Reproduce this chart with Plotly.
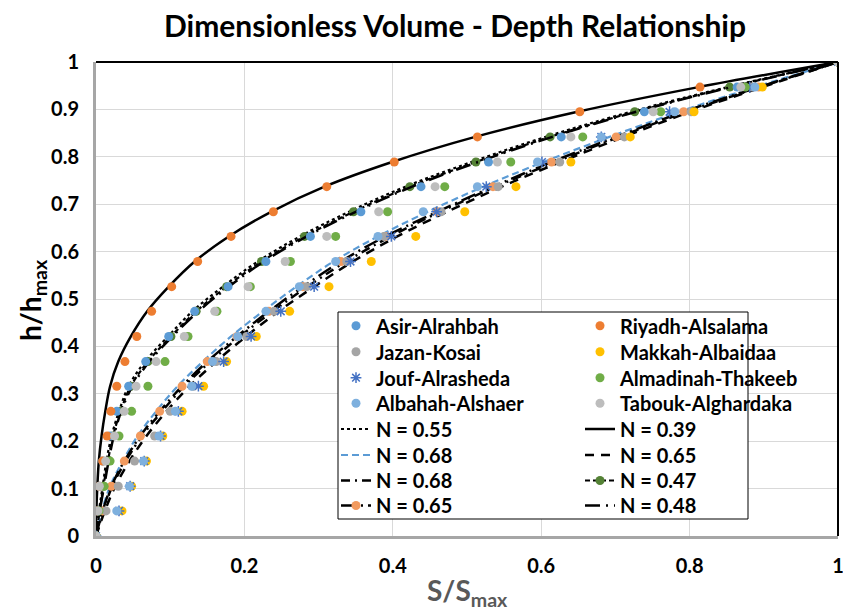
import plotly.graph_objects as go

# Relative depth levels (h/hmax) at which storage was tabulated
h_levels = [0, 0.053, 0.105, 0.158, 0.211, 0.263, 0.316, 0.368, 0.421, 0.474,
            0.526, 0.579, 0.632, 0.684, 0.737, 0.789, 0.842, 0.895, 0.947, 1.0]

# Observed relative storage S/Smax for each reservoir
asir = [0, 0.002, 0.005, 0.009, 0.019, 0.028, 0.044, 0.067, 0.098, 0.133,
        0.178, 0.229, 0.289, 0.357, 0.438, 0.529, 0.627, 0.739, 0.864, 1.0]
riyadh = [0, 0.001, 0.0045, 0.009, 0.015, 0.020, 0.028, 0.039, 0.055, 0.075,
          0.102, 0.137, 0.182, 0.239, 0.311, 0.402, 0.514, 0.652, 0.814, 1.0]
jazan = [0, 0.0135, 0.030, 0.052, 0.079, 0.100, 0.131, 0.162, 0.203, 0.240,
         0.284, 0.338, 0.388, 0.465, 0.542, 0.625, 0.712, 0.802, 0.884, 1.0]
makkah = [0, 0.035, 0.048, 0.068, 0.090, 0.116, 0.145, 0.176, 0.216, 0.261,
          0.314, 0.371, 0.431, 0.497, 0.566, 0.640, 0.720, 0.806, 0.898, 1.0]
jouf = [0, 0.031, 0.046, 0.065, 0.087, 0.111, 0.138, 0.172, 0.209, 0.249,
        0.294, 0.343, 0.398, 0.459, 0.526, 0.601, 0.681, 0.773, 0.881, 1.0]
almadinah = [0, 0.004, 0.011, 0.019, 0.031, 0.048, 0.070, 0.093, 0.124, 0.163,
             0.208, 0.262, 0.323, 0.393, 0.470, 0.559, 0.656, 0.761, 0.875, 1.0]
albahah = [0, 0.028, 0.045, 0.064, 0.085, 0.107, 0.129, 0.157, 0.191, 0.229,
           0.274, 0.323, 0.380, 0.441, 0.514, 0.595, 0.681, 0.780, 0.888, 1.0]
tabouk = [0, 0.0027, 0.0045, 0.013, 0.025, 0.038, 0.054, 0.081, 0.119, 0.160,
          0.205, 0.255, 0.311, 0.381, 0.457, 0.541, 0.640, 0.751, 0.869, 1.0]

# Model curves S/Smax at the same depth levels, one per reservoir
curve_asir = [0, 0.004, 0.009, 0.014, 0.021, 0.031, 0.044, 0.066, 0.097, 0.130,
              0.171, 0.218, 0.275, 0.341, 0.417, 0.506, 0.606, 0.721, 0.851, 1.0]
curve_riyadh = [0, 0.0005, 0.0018, 0.0038, 0.0075, 0.0125, 0.019, 0.030, 0.047, 0.069,
                0.098, 0.133, 0.179, 0.236, 0.308, 0.399, 0.511, 0.649, 0.812, 1.0]
curve_jazan = [0, 0.008, 0.019, 0.036, 0.056, 0.081, 0.110, 0.144, 0.182, 0.225,
               0.270, 0.320, 0.380, 0.447, 0.522, 0.603, 0.692, 0.786, 0.888, 1.0]
curve_makkah = [0, 0.012, 0.026, 0.045, 0.068, 0.095, 0.126, 0.162, 0.202, 0.246,
                0.294, 0.346, 0.406, 0.473, 0.547, 0.626, 0.711, 0.801, 0.898, 1.0]
curve_jouf = [0, 0.010, 0.022, 0.040, 0.062, 0.089, 0.119, 0.154, 0.194, 0.238,
              0.285, 0.337, 0.397, 0.464, 0.539, 0.619, 0.705, 0.796, 0.895, 1.0]
curve_almadinah = [0, 0.005, 0.010, 0.016, 0.023, 0.033, 0.047, 0.070, 0.101, 0.135,
                   0.176, 0.223, 0.281, 0.347, 0.423, 0.512, 0.612, 0.726, 0.854, 1.0]
curve_albahah = [0, 0.009, 0.0207, 0.0382, 0.0598, 0.0858, 0.116, 0.150, 0.190, 0.233,
                 0.279, 0.330, 0.390, 0.460, 0.535, 0.614, 0.701, 0.792, 0.893, 1.0]
curve_tabouk = [0, 0.005, 0.011, 0.017, 0.024, 0.034, 0.049, 0.072, 0.103, 0.138,
                0.179, 0.226, 0.284, 0.350, 0.426, 0.515, 0.615, 0.728, 0.856, 1.0]

station_names = ["Asir-Alrahbah", "Riyadh-Alsalama", "Jazan-Kosai", "Makkah-Albaidaa",
                 "Jouf-Alrasheda", "Almadinah-Thakeeb", "Albahah-Alshaer", "Tabouk-Alghardaka"]
n_values = [0.55, 0.39, 0.68, 0.65, 0.68, 0.47, 0.65, 0.48]

x_ticks = [0, 0.2, 0.4, 0.6, 0.8, 1.0]
x_tick_text = ["0", "0.2", "0.4", "0.6", "0.8", "1"]
y_ticks = [0, 0.1, 0.2, 0.3, 0.4, 0.5, 0.6, 0.7, 0.8, 0.9, 1.0]
y_tick_text = ["0", "0.1", "0.2", "0.3", "0.4", "0.5", "0.6", "0.7", "0.8", "0.9", "1"]

observed = [asir, riyadh, jazan, makkah, jouf, almadinah, albahah, tabouk]
curves = [curve_asir, curve_riyadh, curve_jazan, curve_makkah,
          curve_jouf, curve_almadinah, curve_albahah, curve_tabouk]

# ---- styling ----
W, H = 843, 611
L, R, T, B = 96, 5, 62, 75
PW, PH = W - L - R, H - T - B
FONT = "Lato"


def px_x(px):
    return (px - L) / PW


def px_y(py):
    return (H - B - py) / PH


point_styles = [
    dict(symbol="circle", color="#5B9BD5"),
    dict(symbol="circle", color="#ED7D31"),
    dict(symbol="circle", color="#A5A5A5"),
    dict(symbol="circle", color="#FFC000"),
    dict(symbol="asterisk-open", color="#4472C4"),
    dict(symbol="circle", color="#70AD47"),
    dict(symbol="circle", color="#7EB0DE"),
    dict(symbol="circle", color="#BDBDBD"),
]

curve_styles = [
    dict(color="black", dash="dot", width=2.2, marker=None),
    dict(color="black", dash="solid", width=2.5, marker=None),
    dict(color="#5B9BD5", dash="7px,4px", width=2.2, marker=None),
    dict(color="black", dash="9px,7px", width=2.5, marker=None),
    dict(color="black", dash="9px,5px,2px,5px", width=2.5, marker=None),
    dict(color="black", dash="5px,3px", width=2.2, marker="#548235"),
    dict(color="black", dash="15px,5px,2px,5px", width=2.5, marker="#F29A5E"),
    dict(color="black", dash="15px,6px,2px,6px", width=2.5, marker=None),
]

# legend grid: two columns, eight rows
row_py = [325.7, 351.7, 377.7, 403.3, 429.0, 455.0, 480.5, 505.5]
col_px = [336, 580]

fig = go.Figure()
legend_layouts = {}
legend_count = 0


def next_legend(col, row):
    global legend_count
    legend_count += 1
    key = "legend" if legend_count == 1 else f"legend{legend_count}"
    legend_layouts[key] = dict(
        x=px_x(col_px[col]), y=px_y(row_py[row]), xanchor="left", yanchor="middle",
        bgcolor="rgba(0,0,0,0)", borderwidth=0, itemwidth=30,
        font=dict(family=FONT, size=20, color="black", weight="bold"),
        itemclick=False, itemdoubleclick=False,
    )
    return key


# fitted curves drawn first so observed points sit on top
for i, (cv, st) in enumerate(zip(curves, curve_styles)):
    key = next_legend(i % 2, 4 + i // 2)
    trace = dict(
        x=cv, y=h_levels, name=f"N = {n_values[i]:.2f}", legend=key, showlegend=True,
        line=dict(color=st["color"], dash=st["dash"], width=st["width"], shape="spline", smoothing=1),
    )
    if st["marker"]:
        trace["mode"] = "lines+markers"
        trace["marker"] = dict(symbol="circle", size=9, color=st["marker"])
    else:
        trace["mode"] = "lines"
    fig.add_trace(go.Scatter(**trace))

for i, (obs, st) in enumerate(zip(observed, point_styles)):
    key = next_legend(i % 2, i // 2)
    if st["symbol"] == "asterisk-open":
        mk = dict(symbol="asterisk-open", size=9, color=st["color"],
                  line=dict(color=st["color"], width=1.5))
    else:
        mk = dict(symbol="circle", size=9, color=st["color"])
    fig.add_trace(go.Scatter(x=obs, y=h_levels, mode="markers", name=station_names[i],
                             legend=key, showlegend=True, marker=mk))

axis_common = dict(
    range=[0, 1], showgrid=True, gridcolor="#D9D9D9", gridwidth=1,
    showline=True, linecolor="#A6A6A6", linewidth=3, zeroline=False, ticks="",
    ticklabeloverflow="allow", automargin=False,
    tickfont=dict(family=FONT, size=20, color="black", weight="bold"),
)

fig.update_layout(
    width=W, height=H, margin=dict(l=L, r=R, t=T, b=B, autoexpand=False),
    paper_bgcolor="white", plot_bgcolor="white", showlegend=True,
    xaxis=dict(axis_common, tickvals=x_ticks, ticktext=x_tick_text, ticklabelstandoff=10),
    yaxis=dict(axis_common, tickvals=y_ticks, ticktext=y_tick_text, ticklabelstandoff=10),
    **legend_layouts,
    shapes=[
        dict(type="line", xref="paper", yref="paper", x0=0, x1=1, y0=1, y1=1,
             line=dict(color="black", width=2)),
        dict(type="line", xref="paper", yref="paper", x0=1, x1=1, y0=0, y1=1,
             line=dict(color="black", width=2)),
        dict(type="rect", xref="paper", yref="paper", layer="above",
             x0=px_x(338), x1=px_x(748), y0=px_y(519), y1=px_y(312),
             fillcolor="white", line=dict(color="black", width=1)),
    ],
    annotations=[
        dict(text="Dimensionless Volume - Depth Relationship", xref="paper", yref="paper",
             x=px_x(455), y=px_y(25), showarrow=False, xanchor="center", yanchor="middle",
             font=dict(family=FONT, size=30, color="black", weight="bold")),
        dict(text="h/h<sub>max</sub>", xref="paper", yref="paper", textangle=-90,
             x=px_x(32), y=px_y(300), showarrow=False, xanchor="center", yanchor="middle",
             font=dict(family=FONT, size=28, color="black", weight="bold")),
        dict(text="S/S<sub>max</sub>", xref="paper", yref="paper",
             x=px_x(467), y=px_y(592), showarrow=False, xanchor="center", yanchor="middle",
             font=dict(family=FONT, size=28, color="#595959", weight="bold")),
    ],
)

fig.write_html("out.html")
